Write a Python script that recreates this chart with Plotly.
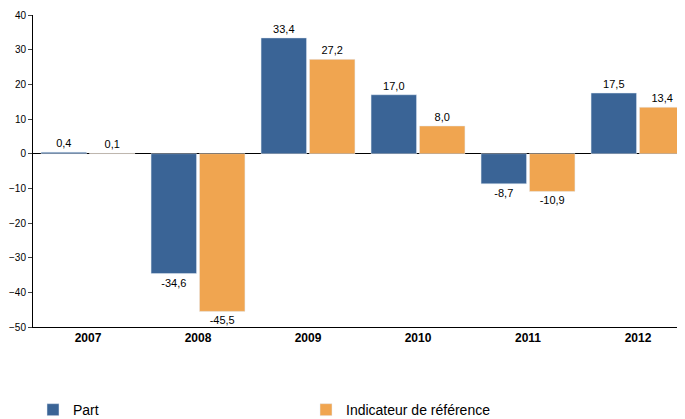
import plotly.graph_objects as go

years = ["2007", "2008", "2009", "2010", "2011", "2012"]
part = [0.4, -34.6, 33.4, 17.0, -8.7, 17.5]
indic = [0.1, -45.5, 27.2, 8.0, -10.9, 13.4]

def fmt(v):
    return f"{v:.1f}".replace(".", ",")

fig = go.Figure()
fig.add_bar(x=years, y=part, name="Part", marker_color="#3a6496",
            text=[fmt(v) for v in part], textposition="outside", cliponaxis=False)
fig.add_bar(x=years, y=indic, name="Indicateur de référence", marker_color="#f0a550",
            text=[fmt(v) for v in indic], textposition="outside", cliponaxis=False)

fig.update_traces(textfont=dict(size=11, color="black"))
fig.update_layout(
    width=685, height=411, barmode="group", bargap=0.12, bargroupgap=0.06,
    plot_bgcolor="white", paper_bgcolor="white",
    font=dict(family="Liberation Sans, Arial", size=11, color="black"),
    margin=dict(l=25, r=0, t=7, b=92, autoexpand=False),
    uniformtext=dict(minsize=11, mode="show"),
    xaxis=dict(showline=True, linecolor="black", ticks="", tickfont=dict(size=12, color="black"),
               tickprefix="<b>", ticksuffix="</b>", automargin=False),
    yaxis=dict(range=[-50, 40], dtick=10, showgrid=False, showline=True, linecolor="black",
               ticks="outside", ticklen=4, zeroline=True, zerolinecolor="black", zerolinewidth=1,
               tickfont=dict(size=10), automargin=False),
    legend=dict(orientation="h", x=0.0, y=-0.215, yanchor="top", entrywidth=228,
                font=dict(size=14), itemwidth=30),
    showlegend=True,
)
fig.write_html("out.html")
